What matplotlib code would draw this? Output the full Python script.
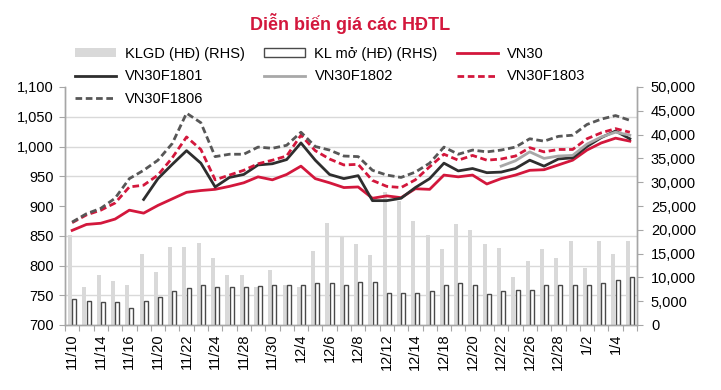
import matplotlib
matplotlib.use("Agg")
import matplotlib.pyplot as plt
import numpy as np
from matplotlib.lines import Line2D
from matplotlib.patches import Patch
from matplotlib.ticker import FuncFormatter, FixedLocator

# ---------------- data ----------------
dates = ['11/10', '11/13', '11/14', '11/15', '11/16', '11/17', '11/20', '11/21', '11/22', '11/23',
         '11/24', '11/27', '11/28', '11/29', '11/30', '12/1', '12/4', '12/5', '12/6', '12/7',
         '12/8', '12/11', '12/12', '12/13', '12/14', '12/15', '12/18', '12/19', '12/20', '12/21',
         '12/22', '12/25', '12/26', '12/27', '12/28', '12/29', '1/2', '1/3', '1/4', '1/5']

vn30 = [859, 869, 871, 878, 893, 888, 901, 912, 923, 926,
        928, 933, 939, 949, 944, 953, 967, 946, 939, 931,
        932, 913, 917, 914, 929, 928, 952, 949, 952, 937,
        946, 952, 960, 961, 969, 977, 994, 1006, 1014, 1009]

vn30f1801 = [None, None, None, None, None, 911, 946, 970, 993, 972,
             932, 948, 953, 969, 971, 978, 1006, 977, 953, 946,
             951, 909, 909, 913, 931, 946, 972, 959, 963, 956,
             957, 963, 977, 967, 979, 981, 1000, 1015, 1026, 1013]

vn30f1802 = [None] * 30 + [967, 976, 991, 980, 984, 985, 1004, 1016, 1024, 1019]

vn30f1803 = [872, 885, 893, 905, 932, 935, 952, 981, 1016, 995,
             944, 952, 960, 971, 977, 984, 1019, 993, 979, 969,
             970, 943, 933, 931, 944, 966, 987, 977, 985, 977,
             979, 984, 998, 991, 995, 995, 1013, 1023, 1030, 1024]

vn30f1806 = [873, 887, 896, 913, 946, 960, 977, 1005, 1056, 1040,
             983, 987, 987, 999, 997, 1002, 1024, 1000, 994, 984,
             983, 960, 952, 948, 957, 972, 999, 987, 994, 991,
             994, 999, 1013, 1009, 1017, 1019, 1037, 1046, 1052, 1044]

klgd = [19000, 8000, 10600, 9200, 8300, 15000, 11200, 16400, 16400, 17300,
        14100, 10600, 10400, 8000, 11500, 8500, 8000, 15600, 21500, 18500,
        17000, 14700, 28000, 26000, 21900, 18900, 15900, 21200, 19900, 17000,
        16100, 10000, 13500, 15900, 14100, 17600, 12000, 17600, 15000, 17600]

kl_mo = [5400, 5100, 4800, 4800, 3600, 5100, 5900, 7100, 7700, 8500,
         8000, 8000, 8000, 8200, 8500, 8500, 8500, 8900, 8900, 8500,
         9100, 9100, 6800, 6800, 6800, 7100, 8300, 8900, 8500, 6500,
         7100, 7400, 7400, 8300, 8500, 8500, 8500, 8900, 9400, 10000]

left_ticks = [700, 750, 800, 850, 900, 950, 1000, 1050, 1100]
right_ticks = [0, 5000, 10000, 15000, 20000, 25000, 30000, 35000, 40000, 45000, 50000]

title = "Diễn biến giá các HĐTL"

# ---------------- style ----------------
RED = "#D3173C"
BLACK = "#2E2E2E"
GRAY_LINE = "#A8A8A8"
DARK_DASH = "#575757"
BAR_GRAY = "#D9D9D9"
BAR_EDGE = "#4A4A4A"
SPINE = "#A6A6A6"
GRID = "#D9D9D9"
FONT = ["Liberation Sans", "DejaVu Sans"]
FS = 10.5

plt.rcParams["font.family"] = FONT

fig = plt.figure(figsize=(7.21, 3.90), dpi=100)
ax = fig.add_axes([65 / 721, 1 - 325 / 390, (637 - 65) / 721, (325 - 87) / 390])
ax2 = ax.twinx()

x = np.arange(len(dates))

def to_arr(v):
    return np.array([np.nan if a is None else a for a in v], dtype=float)

# bars on right axis (behind)
bw = 0.28
ax2.bar(x - 0.15, klgd, width=bw, color=BAR_GRAY, edgecolor="none", zorder=2)
ax2.bar(x + 0.15, kl_mo, width=bw, facecolor="white", edgecolor=BAR_EDGE, linewidth=1.0, zorder=3)
ax2.set_ylim(0, 50000)
ax2.set_yticks(right_ticks)
ax2.yaxis.set_major_formatter(FuncFormatter(lambda v, p: f"{int(v):,}"))

# gridlines at left-axis tick values, drawn on the bar axis so they stay behind bars
ylo, yhi = left_ticks[0], left_ticks[-1]
grid_vals = [(t - ylo) / (yhi - ylo) * 50000 for t in left_ticks]
ax2.yaxis.set_minor_locator(FixedLocator(grid_vals))
ax2.grid(which="minor", axis="y", color=GRID, linewidth=1.0, zorder=0)
ax2.set_axisbelow(True)
ax2.tick_params(axis="y", which="minor", length=0)

# lines on left axis (front)
ax.set_zorder(ax2.get_zorder() + 1)
ax.patch.set_visible(False)
lw = 2.0
dash = (0, (2.4, 1.3))
ax.plot(x, to_arr(vn30), color=RED, lw=lw, solid_joinstyle="round")
ax.plot(x, to_arr(vn30f1801), color=BLACK, lw=lw)
ax.plot(x, to_arr(vn30f1802), color=GRAY_LINE, lw=lw)
ax.plot(x, to_arr(vn30f1803), color=RED, lw=lw, linestyle=dash)
ax.plot(x, to_arr(vn30f1806), color=DARK_DASH, lw=lw, linestyle=dash)

ax.set_ylim(ylo, yhi)
ax.set_yticks(left_ticks)
ax.yaxis.set_major_formatter(FuncFormatter(lambda v, p: f"{int(v):,}"))
ax.set_xlim(-0.5, len(dates) - 0.5)

# x ticks: marks at category boundaries, labels every other category
ax.set_xticks(np.arange(len(dates) + 1) - 0.5)
ax.set_xticklabels([])
ax.set_xticks(x[::2], minor=True)
ax.set_xticklabels(dates[::2], minor=True, rotation=90, fontsize=FS)
ax.tick_params(axis="x", which="major", length=4, color=SPINE, direction="out")
ax.tick_params(axis="x", which="minor", length=0, pad=6)
ax.tick_params(axis="y", length=4, color=SPINE, labelsize=FS, pad=4)
ax2.tick_params(axis="y", which="major", length=4, color=SPINE, labelsize=FS, pad=6)

for a in (ax, ax2):
    for s in a.spines.values():
        s.set_color(SPINE)
        s.set_linewidth(1.0)
    a.spines["top"].set_visible(False)

# title
fig.text(350 / 721, 1 - 24 / 390, title, ha="center", va="center", fontsize=13,
         fontweight="bold", color=RED)

# legend (column-major order to obtain row layout)
handles = [
    Patch(facecolor=BAR_GRAY, edgecolor="none"),
    Line2D([], [], color=BLACK, lw=lw),
    Line2D([], [], color=DARK_DASH, lw=lw, linestyle=dash),
    Patch(facecolor="white", edgecolor=BAR_EDGE, linewidth=1.0),
    Line2D([], [], color=GRAY_LINE, lw=lw),
    Line2D([], [], color=RED, lw=lw),
    Line2D([], [], color=RED, lw=lw, linestyle=dash),
]
labels = ["KLGD (HĐ) (RHS)", "VN30F1801", "VN30F1806", "KL mở (HĐ) (RHS)",
          "VN30F1802", "VN30", "VN30F1803"]
leg = fig.legend(handles, labels, ncol=3, loc="upper left",
                 bbox_to_anchor=(75 / 721, 1 - 47 / 390), frameon=False,
                 fontsize=FS, borderpad=0, borderaxespad=0, handlelength=2.8,
                 handleheight=0.6, handletextpad=0.65, columnspacing=1.3,
                 labelspacing=0.58)

fig.savefig("out.png", dpi=100)
